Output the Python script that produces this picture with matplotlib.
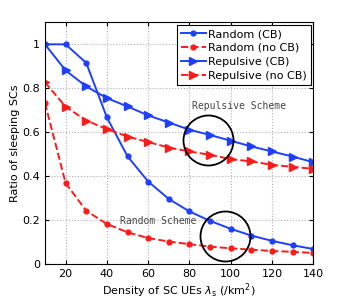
import matplotlib
matplotlib.use('Agg')
import matplotlib.pyplot as plt
import numpy as np

density = [10, 20, 30, 40, 50, 60, 70, 80, 90, 100, 110, 120, 130, 140]
random_cb = [1.0, 1.0, 0.915, 0.667, 0.49, 0.375, 0.296, 0.239, 0.196, 0.16, 0.129, 0.105, 0.085, 0.068]
random_nocb = [0.733, 0.368, 0.242, 0.182, 0.144, 0.118, 0.102, 0.090, 0.079, 0.071, 0.065, 0.059, 0.055, 0.050]
repulsive_cb = [1.0, 0.881, 0.808, 0.755, 0.717, 0.676, 0.644, 0.611, 0.587, 0.561, 0.535, 0.512, 0.489, 0.463]
repulsive_nocb = [0.827, 0.716, 0.653, 0.614, 0.58, 0.555, 0.530, 0.512, 0.497, 0.477, 0.467, 0.451, 0.442, 0.433]

blue = '#1f3fff'
red = '#ff1a1a'

fig = plt.figure(figsize=(3.46, 3.02), dpi=100)
ax = fig.add_axes([0.130, 0.126, 0.7755, 0.80])

ax.plot(density, random_cb, '-', color=blue, lw=1.4, marker='o', ms=3.5, label='Random (CB)')
ax.plot(density, random_nocb, '--', color=red, lw=1.4, marker='o', ms=3.5, label='Random (no CB)')
ax.plot(density, repulsive_cb, '-', color=blue, lw=1.4, marker='>', ms=5.5, label='Repulsive (CB)')
ax.plot(density, repulsive_nocb, '--', color=red, lw=1.4, marker='>', ms=5.5, label='Repulsive (no CB)')

# circles highlighting the two schemes
ax.plot([89], [0.565], 'o', ms=36, mfc='none', mec='black', mew=1.3)
ax.plot([97.3], [0.125], 'o', ms=36, mfc='none', mec='black', mew=1.3)
ax.text(103.9, 0.717, 'Repulsive Scheme', family='monospace', fontsize=7, color='#444444',
        ha='center', va='center')
ax.text(64.8, 0.196, 'Random Scheme', family='monospace', fontsize=7, color='#444444',
        ha='center', va='center')

ax.set_xlim(10, 140)
ax.set_ylim(0, 1.1)
ax.set_xticks([20, 40, 60, 80, 100, 120, 140])
ax.set_yticks([0, 0.2, 0.4, 0.6, 0.8, 1.0])
ax.set_yticklabels(['0', '0.2', '0.4', '0.6', '0.8', '1'])
ax.tick_params(direction='in', labelsize=8, length=3, top=True, right=True)
ax.grid(True, linestyle=':', color='#b0b0b0', lw=0.8)
for s in ax.spines.values():
    s.set_linewidth(0.8)

ax.set_xlabel(r'Density of SC UEs $\lambda_{\rm s}$ (/km$^2$)', fontsize=8, labelpad=2)
ax.set_ylabel('Ratio of sleeping SCs', fontsize=8, labelpad=2)

leg = ax.legend(loc='upper right', fontsize=8, fancybox=False, framealpha=1,
                edgecolor='black', borderpad=0.35, labelspacing=0.35, handlelength=2.2,
                handletextpad=0.2, borderaxespad=0.25)
leg.get_frame().set_linewidth(0.8)

fig.savefig('out.png', dpi=100)
